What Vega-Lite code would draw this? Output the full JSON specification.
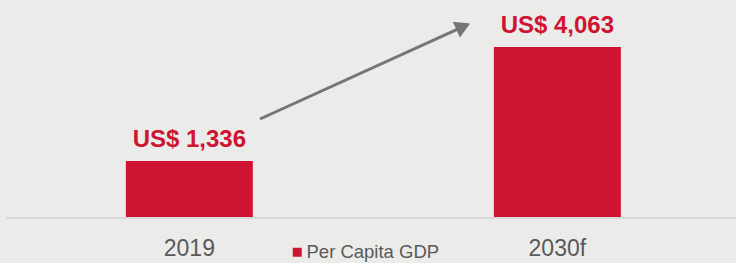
{
  "$schema": "https://vega.github.io/schema/vega-lite/v6.json",
  "width": 730,
  "height": 217,
  "autosize": {"type": "none"},
  "padding": {"left": 6, "top": 0, "right": 0, "bottom": 46},
  "background": "#ebebea",
  "config": {
    "view": {"stroke": null},
    "font": "Liberation Sans",
    "axisX": {"domain": false, "ticks": false, "grid": false, "labelPadding": 20, "labelFontSize": 23, "labelColor": "#595959", "labelAngle": 0}
  },
  "datasets": {
    "bars": [
      {"year": "2019", "gdp": 1336, "label": "US$ 1,336", "series": "Per Capita GDP"},
      {"year": "2030f", "gdp": 4063, "label": "US$ 4,063", "series": "Per Capita GDP"}
    ],
    "arrow": [{"ax": 0.1918, "ay": 2342}, {"ax": 0.7440, "ay": 4550}],
    "head": [{"ax": 0.7440, "ay": 4550}],
    "base": [{"b": -24}]
  },
  "layer": [
    {
      "layer": [
        {
          "data": {"name": "base"},
          "mark": {"type": "rule", "color": "#d9d9d9", "strokeWidth": 2},
          "encoding": {"y": {"field": "b", "type": "quantitative", "scale": {"domain": [0, 5186], "nice": false}, "axis": null}}
        },
        {
          "data": {"name": "bars"},
          "mark": {"type": "bar"},
          "encoding": {
            "x": {"field": "year", "type": "nominal", "title": null, "sort": null, "scale": {"paddingInner": 0.655, "paddingOuter": 0.3193, "align": 0.51}},
            "y": {"field": "gdp", "type": "quantitative", "scale": {"domain": [0, 5186], "nice": false}, "axis": null},
            "color": {"field": "series", "type": "nominal", "scale": {"range": ["#cf1431"]},
              "legend": {"title": null, "orient": "none", "legendX": 282, "legendY": 243, "symbolType": "square", "symbolSize": 81, "labelFontSize": 18.5, "labelColor": "#595959", "labelOffset": 0, "padding": 0, "symbolStrokeWidth": 0}}
          }
        },
        {
          "data": {"name": "bars"},
          "mark": {"type": "text", "fontSize": 24, "fontWeight": "bold", "color": "#cf1431", "baseline": "alphabetic", "dy": -14},
          "encoding": {
            "x": {"field": "year", "type": "nominal", "title": null, "sort": null},
            "y": {"field": "gdp", "type": "quantitative", "scale": {"domain": [0, 5186], "nice": false}, "axis": null},
            "text": {"field": "label"}
          }
        }
      ]
    },
    {
      "layer": [
        {
          "data": {"name": "arrow"},
          "mark": {"type": "line", "color": "#757575", "strokeWidth": 3},
          "encoding": {
            "x": {"field": "ax", "type": "quantitative", "scale": {"domain": [-0.4984, 1.4853], "nice": false, "zero": false}, "axis": null},
            "y": {"field": "ay", "type": "quantitative", "scale": {"domain": [0, 5186], "nice": false}, "axis": null}
          }
        },
        {
          "data": {"name": "head"},
          "mark": {"type": "point", "shape": "triangle-right", "size": 300, "angle": 335.6, "filled": true, "color": "#757575", "opacity": 1},
          "encoding": {
            "x": {"field": "ax", "type": "quantitative", "scale": {"domain": [-0.4984, 1.4853], "nice": false, "zero": false}, "axis": null},
            "y": {"field": "ay", "type": "quantitative", "scale": {"domain": [0, 5186], "nice": false}, "axis": null}
          }
        }
      ]
    }
  ],
  "resolve": {"scale": {"x": "independent"}, "axis": {"x": "independent"}}
}
